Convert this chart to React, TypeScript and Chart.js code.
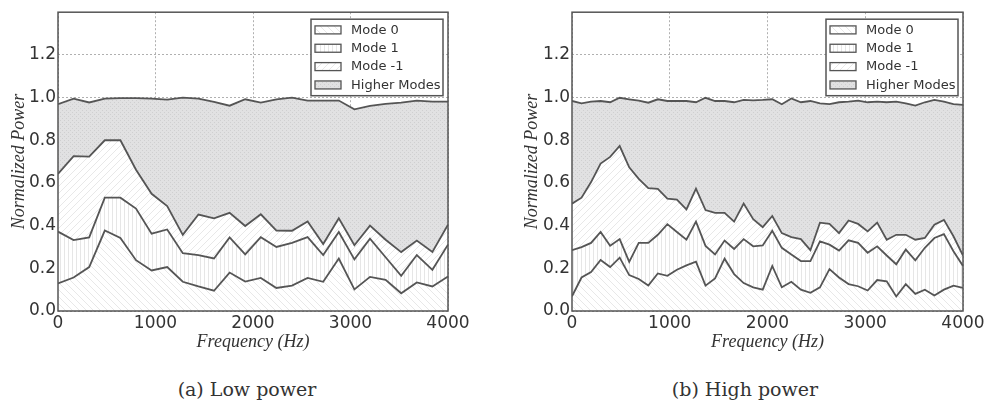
import React, { useEffect, useRef } from 'react';
import { Chart, registerables } from 'chart.js';

Chart.register(...registerables);

// ---------- data ----------
const seriesLabels = ['Mode 0', 'Mode 1', 'Mode -1', 'Higher Modes'];
const xTickValues = [0, 1000, 2000, 3000, 4000];
const yTickValues = [0, 0.2, 0.4, 0.6, 0.8, 1.0, 1.2];

// (a) Low power — cumulative upper boundaries of each stacked band
const lowFreq = [0, 160, 320, 480, 640, 800, 960, 1120, 1280, 1440, 1600, 1760, 1920, 2080, 2240, 2400, 2560, 2720, 2880, 3040, 3200, 3360, 3520, 3680, 3840, 4000];
const lowMode0 = [0.129, 0.157, 0.206, 0.377, 0.342, 0.238, 0.19, 0.206, 0.137, 0.115, 0.095, 0.18, 0.138, 0.155, 0.108, 0.119, 0.155, 0.137, 0.246, 0.101, 0.16, 0.146, 0.083, 0.134, 0.115, 0.162];
const lowMode1 = [0.372, 0.332, 0.345, 0.531, 0.531, 0.48, 0.362, 0.382, 0.271, 0.262, 0.246, 0.345, 0.265, 0.346, 0.3, 0.319, 0.346, 0.262, 0.37, 0.242, 0.339, 0.252, 0.165, 0.262, 0.193, 0.311];
const lowModeM1 = [0.642, 0.726, 0.723, 0.8, 0.8, 0.662, 0.549, 0.492, 0.357, 0.452, 0.434, 0.46, 0.398, 0.453, 0.377, 0.376, 0.419, 0.314, 0.434, 0.308, 0.4, 0.334, 0.276, 0.33, 0.277, 0.404];
const lowHigher = [0.969, 0.995, 0.977, 0.995, 0.997, 0.997, 0.995, 0.99, 1.0, 0.995, 0.98, 0.962, 0.992, 0.976, 0.992, 1.0, 0.986, 0.986, 0.986, 0.945, 0.961, 0.97, 0.976, 0.986, 0.981, 0.981];

// (b) High power
const highFreq = [0, 97.6, 195.1, 292.7, 390.2, 487.8, 585.4, 682.9, 780.5, 878.0, 975.6, 1073.2, 1170.7, 1268.3, 1365.9, 1463.4, 1561.0, 1658.5, 1756.1, 1853.7, 1951.2, 2048.8, 2146.3, 2243.9, 2341.5, 2439.0, 2536.6, 2634.1, 2731.7, 2829.3, 2926.8, 3024.4, 3122.0, 3219.5, 3317.1, 3414.6, 3512.2, 3609.8, 3707.3, 3804.9, 3902.4, 4000];
const highMode0 = [0.069, 0.157, 0.183, 0.239, 0.206, 0.25, 0.168, 0.15, 0.119, 0.176, 0.165, 0.193, 0.214, 0.231, 0.119, 0.153, 0.245, 0.173, 0.131, 0.111, 0.1, 0.211, 0.111, 0.137, 0.1, 0.085, 0.111, 0.196, 0.157, 0.126, 0.116, 0.096, 0.145, 0.139, 0.068, 0.126, 0.08, 0.1, 0.073, 0.1, 0.119, 0.108];
const highMode1 = [0.285, 0.299, 0.319, 0.37, 0.306, 0.337, 0.23, 0.319, 0.319, 0.357, 0.407, 0.37, 0.334, 0.419, 0.305, 0.265, 0.33, 0.291, 0.337, 0.303, 0.307, 0.376, 0.296, 0.265, 0.234, 0.234, 0.326, 0.311, 0.283, 0.331, 0.319, 0.273, 0.303, 0.26, 0.219, 0.288, 0.237, 0.296, 0.342, 0.36, 0.28, 0.211];
const highModeM1 = [0.503, 0.531, 0.604, 0.691, 0.722, 0.773, 0.673, 0.619, 0.576, 0.572, 0.526, 0.522, 0.476, 0.573, 0.473, 0.46, 0.46, 0.419, 0.503, 0.43, 0.393, 0.445, 0.365, 0.346, 0.337, 0.285, 0.414, 0.408, 0.365, 0.424, 0.408, 0.373, 0.414, 0.334, 0.357, 0.357, 0.334, 0.342, 0.404, 0.427, 0.35, 0.26];
const highHigher = [0.984, 0.973, 0.981, 0.984, 0.978, 0.999, 0.992, 0.986, 0.976, 0.992, 0.984, 0.984, 0.984, 0.978, 0.999, 0.984, 0.984, 0.978, 0.989, 0.987, 0.989, 0.992, 0.969, 0.996, 0.978, 0.984, 0.973, 0.969, 0.978, 0.981, 0.986, 0.978, 0.981, 0.978, 0.981, 0.973, 0.962, 0.978, 0.989, 0.981, 0.969, 0.966];

// ---------- styling helpers ----------
const LINE = '#555555';
const TEXT = '#333333';

function makePattern(kind: string): CanvasPattern | string {
  const c = document.createElement('canvas');
  const ctx = c.getContext('2d');
  if (!ctx) return '#fff';
  if (kind === 'dots') {
    c.width = 4; c.height = 4;
    ctx.fillStyle = '#e1e1e2';
    ctx.fillRect(0, 0, 4, 4);
    ctx.fillStyle = '#cfcfd0';
    ctx.fillRect(0, 0, 1, 1);
    ctx.fillRect(2, 2, 1, 1);
  } else if (kind === 'vert') {
    c.width = 4; c.height = 4;
    ctx.fillStyle = '#ffffff';
    ctx.fillRect(0, 0, 4, 4);
    ctx.fillStyle = '#e6e6e6';
    ctx.fillRect(0, 0, 1, 4);
  } else {
    const s = 7;
    c.width = s; c.height = s;
    ctx.fillStyle = '#ffffff';
    ctx.fillRect(0, 0, s, s);
    ctx.strokeStyle = '#e8e8e8';
    ctx.lineWidth = 1;
    ctx.beginPath();
    for (const off of [-s, 0, s]) {
      if (kind === 'back') {
        ctx.moveTo(off, 0);
        ctx.lineTo(off + s, s);
      } else {
        ctx.moveTo(off, s);
        ctx.lineTo(off + s, 0);
      }
    }
    ctx.stroke();
  }
  const p = ctx.createPattern(c, 'repeat');
  return p || '#fff';
}

const framePlugin = {
  id: 'frameBox',
  afterDraw(chart: any) {
    const { ctx, chartArea } = chart;
    ctx.save();
    ctx.strokeStyle = LINE;
    ctx.lineWidth = 1.5;
    ctx.strokeRect(chartArea.left, chartArea.top, chartArea.right - chartArea.left, chartArea.bottom - chartArea.top);
    ctx.restore();
  },
};

const boxLegendPlugin = {
  id: 'boxLegend',
  afterDraw(chart: any) {
    const { ctx, chartArea } = chart;
    const w = 132;
    const h = 76.5;
    const x = chartArea.right - 5 - w;
    const y = chartArea.top + 7;
    ctx.save();
    ctx.fillStyle = '#ffffff';
    ctx.fillRect(x, y, w, h);
    ctx.strokeStyle = LINE;
    ctx.lineWidth = 1.5;
    ctx.strokeRect(x, y, w, h);
    ctx.font = '13px "DejaVu Sans"';
    ctx.textBaseline = 'middle';
    ctx.textAlign = 'left';
    chart.data.datasets.forEach((ds: any, i: number) => {
      const cy = y + 10.7 + i * 18.35;
      ctx.fillStyle = ds.backgroundColor;
      ctx.fillRect(x + 4, cy - 4, 26, 8);
      ctx.strokeStyle = LINE;
      ctx.lineWidth = 1.3;
      ctx.strokeRect(x + 4, cy - 4, 26, 8);
      ctx.fillStyle = TEXT;
      ctx.fillText(ds.label, x + 40, cy + 0.5);
    });
    ctx.restore();
  },
};

type PanelProps = {
  freq: number[];
  bands: number[][];
  left: number;
  yAxisWidth: number;
  padRight: number;
  yTitlePad: number;
};

const CANVAS_W = 490;
const CANVAS_H = 360;
const AREA_BOTTOM = 311;

function Panel({ freq, bands, left, yAxisWidth, padRight, yTitlePad }: PanelProps) {
  const ref = useRef<HTMLCanvasElement | null>(null);
  useEffect(() => {
    if (!ref.current) return;
    const fills = [makePattern('back'), makePattern('vert'), makePattern('fwd'), makePattern('dots')];
    const datasets = bands.map((vals, i) => ({
      label: seriesLabels[i],
      data: freq.map((f, j) => ({ x: f, y: vals[j] })),
      borderColor: LINE,
      borderWidth: 1.8,
      backgroundColor: fills[i] as any,
      fill: i === 0 ? 'origin' : '-1',
      pointRadius: 0,
      tension: 0,
    }));
    const tickFont = { family: '"DejaVu Sans"', size: 17 };
    const titleFont = { family: '"Liberation Serif"', size: 18, style: 'italic' as const };
    const chart = new Chart(ref.current, {
      type: 'line',
      data: { datasets },
      options: {
        responsive: false,
        maintainAspectRatio: false,
        animation: false,
        events: [],
        layout: { padding: { top: 7, right: padRight, left: 0, bottom: 0 } },
        plugins: { legend: { display: false }, tooltip: { enabled: false } },
        scales: {
          x: {
            type: 'linear',
            min: 0,
            max: 4000,
            z: 1,
            afterBuildTicks: (scale: any) => {
              scale.ticks = xTickValues.map((v) => ({ value: v }));
            },
            ticks: {
              color: TEXT,
              font: tickFont,
              padding: 2,
              maxRotation: 0,
              callback: (v: any) => String(v),
            },
            grid: { color: '#b0b0b0', lineWidth: 1, drawTicks: false },
            border: { display: false, dash: [2, 2] },
            title: {
              display: true,
              text: 'Frequency (Hz)',
              color: TEXT,
              font: titleFont,
              padding: { top: 0, bottom: 7.2 },
            },
            afterFit: (scale: any) => {
              scale.height = CANVAS_H - AREA_BOTTOM;
            },
          },
          y: {
            type: 'linear',
            min: 0,
            max: 1.4,
            z: 1,
            afterBuildTicks: (scale: any) => {
              scale.ticks = yTickValues.map((v) => ({ value: v }));
            },
            ticks: {
              color: TEXT,
              font: tickFont,
              padding: 2,
              callback: (v: any) => Number(v).toFixed(1),
            },
            grid: { color: '#b0b0b0', lineWidth: 1, drawTicks: false },
            border: { display: false, dash: [2, 2] },
            title: {
              display: true,
              text: 'Normalized Power',
              color: TEXT,
              font: titleFont,
              padding: { top: yTitlePad, bottom: 0 },
            },
            afterFit: (scale: any) => {
              scale.width = yAxisWidth;
            },
          },
        },
      },
      plugins: [framePlugin, boxLegendPlugin],
    } as any);
    return () => chart.destroy();
  }, []);
  return (
    <canvas
      ref={ref}
      width={CANVAS_W}
      height={CANVAS_H}
      style={{ position: 'absolute', left, top: 0, width: CANVAS_W, height: CANVAS_H }}
    />
  );
}

const captionStyle: React.CSSProperties = {
  position: 'absolute',
  top: 379,
  transform: 'translateX(-50%)',
  whiteSpace: 'nowrap',
  fontFamily: '"DejaVu Serif", serif',
  fontSize: 19,
  lineHeight: '20px',
  color: TEXT,
};

export default function App() {
  return (
    <div style={{ position: 'absolute', left: 0, top: 0, width: 987, height: 405, background: '#ffffff', overflow: 'hidden' }}>
      <Panel
        freq={lowFreq}
        bands={[lowMode0, lowMode1, lowModeM1, lowHigher]}
        left={0}
        yAxisWidth={58}
        padRight={42}
        yTitlePad={8}
      />
      <Panel
        freq={highFreq}
        bands={[highMode0, highMode1, highModeM1, highHigher]}
        left={497}
        yAxisWidth={75}
        padRight={24}
        yTitlePad={24}
      />
      <div style={{ ...captionStyle, left: 247 }}>(a) Low power</div>
      <div style={{ ...captionStyle, left: 745 }}>(b) High power</div>
    </div>
  );
}
